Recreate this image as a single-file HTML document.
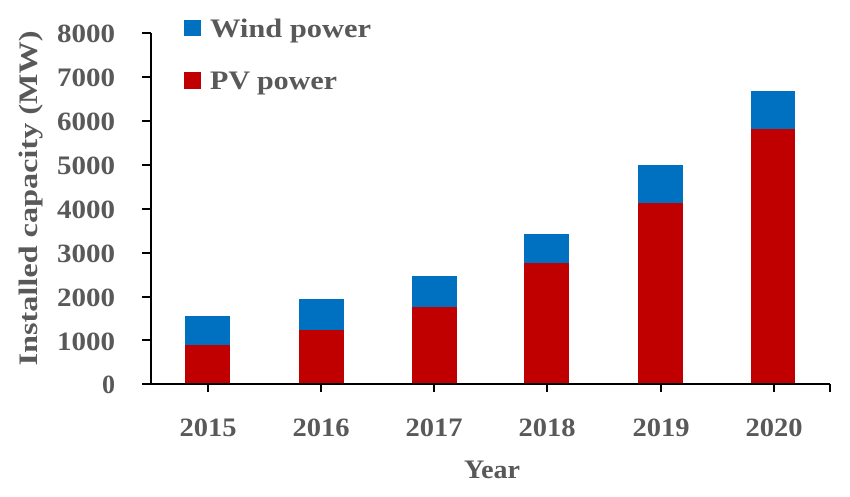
<!DOCTYPE html>
<html><head><style>body{margin:0;background:#fff}</style></head><body>
<svg width="850" height="492" xmlns="http://www.w3.org/2000/svg" font-family="'Liberation Serif', serif" font-weight="bold" fill="#595959">
<g fill="#c00000">
<rect x="185" y="345" width="45" height="39"/>
<rect x="299" y="330" width="45" height="54"/>
<rect x="412" y="307" width="45" height="77"/>
<rect x="524" y="263" width="45" height="121"/>
<rect x="638" y="203" width="45" height="181"/>
<rect x="751" y="129" width="44" height="255"/>
</g>
<g fill="#0070c0">
<rect x="185" y="316" width="45" height="29"/>
<rect x="299" y="299" width="45" height="31"/>
<rect x="412" y="276" width="45" height="31"/>
<rect x="524" y="234" width="45" height="29"/>
<rect x="638" y="165" width="45" height="38"/>
<rect x="751" y="91" width="44" height="38"/>
<rect x="184" y="20" width="17" height="16"/>
</g>
<rect x="184" y="72" width="17" height="17" fill="#c00000"/>
<g stroke="#000" stroke-width="2" fill="none">
<path d="M151 33V384M142 384H830"/>
<path d="M142 33H151M142 77H151M142 121H151M142 165H151M142 209H151M142 253H151M142 297H151M142 340H151"/>
<path d="M208 384v8M321 384v8M434 384v8M547 384v8M661 384v8M774 384v8M830 384v8"/>
</g>
<g font-size="26" text-anchor="end">
<text x="115" y="42" textLength="58" lengthAdjust="spacingAndGlyphs">8000</text><text x="115" y="86" textLength="58" lengthAdjust="spacingAndGlyphs">7000</text><text x="115" y="130" textLength="58" lengthAdjust="spacingAndGlyphs">6000</text>
<text x="115" y="174" textLength="58" lengthAdjust="spacingAndGlyphs">5000</text><text x="115" y="218" textLength="58" lengthAdjust="spacingAndGlyphs">4000</text><text x="115" y="262" textLength="58" lengthAdjust="spacingAndGlyphs">3000</text>
<text x="115" y="306" textLength="58" lengthAdjust="spacingAndGlyphs">2000</text><text x="115" y="350" textLength="58" lengthAdjust="spacingAndGlyphs">1000</text><text x="115" y="393">0</text>
</g>
<g font-size="26" text-anchor="middle">
<text x="208" y="436" textLength="57" lengthAdjust="spacingAndGlyphs">2015</text><text x="321" y="436" textLength="57" lengthAdjust="spacingAndGlyphs">2016</text><text x="434" y="436" textLength="57" lengthAdjust="spacingAndGlyphs">2017</text>
<text x="547" y="436" textLength="57" lengthAdjust="spacingAndGlyphs">2018</text><text x="661" y="436" textLength="57" lengthAdjust="spacingAndGlyphs">2019</text><text x="774" y="436" textLength="57" lengthAdjust="spacingAndGlyphs">2020</text>
<text x="492" y="478" textLength="56" lengthAdjust="spacingAndGlyphs">Year</text>
<text transform="translate(37,198) rotate(-90)" textLength="335" lengthAdjust="spacingAndGlyphs">Installed  capacity (MW)</text>
</g>
<g font-size="26">
<text x="210" y="37" textLength="161" lengthAdjust="spacingAndGlyphs">Wind power</text>
<text x="210" y="89" textLength="127" lengthAdjust="spacingAndGlyphs">PV power</text>
</g>
</svg>
</body></html>
